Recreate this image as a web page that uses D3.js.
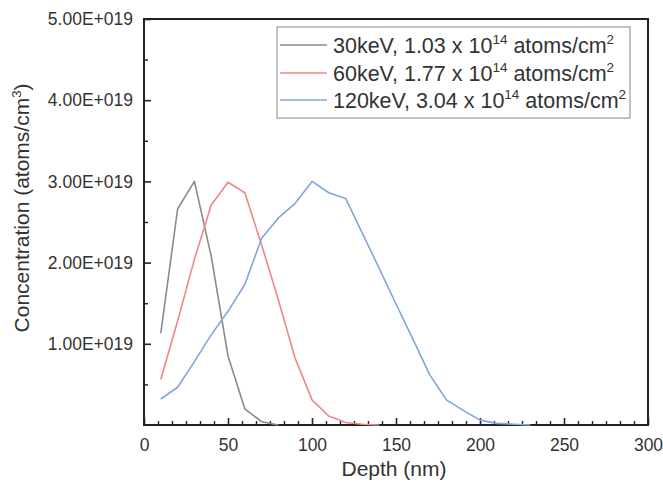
<!DOCTYPE html>
<html>
<head>
<meta charset="utf-8">
<script src="https://cdn.jsdelivr.net/npm/d3@7"></script>
<style>
  html, body { margin: 0; padding: 0; background: #fff; }
  svg { display: block; }
  text { font-family: "Liberation Sans", Arial, sans-serif; fill: #333; }
</style>
</head>
<body>
<svg id="chart" width="663" height="483"></svg>
<script>
// ---- data (concentration in units of 1e19 atoms/cm^3) ----
const depth30 = [10, 20, 30, 40, 50, 60, 70, 80];
const conc30  = [1.13, 2.66, 3.00, 2.08, 0.85, 0.20, 0.04, 0.0];

const depth60 = [10, 20, 30, 40, 50, 60, 70, 80, 90, 100, 110, 120, 130, 140];
const conc60  = [0.56, 1.28, 2.04, 2.71, 2.99, 2.86, 2.22, 1.54, 0.82, 0.31, 0.11, 0.03, 0.01, 0.0];

const depth120 = [10, 20, 30, 40, 50, 60, 70, 80, 90, 100, 110, 120, 130, 140, 150, 160, 170, 180, 190, 200, 210, 220, 230];
const conc120  = [0.32, 0.465, 0.78, 1.11, 1.40, 1.73, 2.30, 2.55, 2.73, 3.00, 2.86, 2.79, 2.36, 1.93, 1.49, 1.06, 0.62, 0.31, 0.18, 0.06, 0.02, 0.01, 0.0];

const seriesNames = ["30keV", "60keV", "120keV"];
const doses = ["1.03", "1.77", "3.04"];
const seriesColors = ["#8a8a8a", "#ee8888", "#7fa6da"];

const xTicks = [0, 50, 100, 150, 200, 250, 300];
const yTicks = [1, 2, 3, 4, 5];
const yTickLabels = ["1.00E+019", "2.00E+019", "3.00E+019", "4.00E+019", "5.00E+019"];

// ---- layout ----
const svg = d3.select("#chart");
const L = 144, R = 648, T = 19, B = 425;
const x = d3.scaleLinear().domain([0, 300]).range([L, R]);
const y = d3.scaleLinear().domain([0, 5]).range([B, T]);

const axisColor = "#222";

// minor ticks
const xMinor = d3.range(0, 300.01, 50 / 6).filter(v => Math.abs(v / 50 - Math.round(v / 50)) > 1e-6);
const yMinor = [0.5, 1.5, 2.5, 3.5, 4.5];

// x axis (ticks inward)
const xAxis = d3.axisBottom(x).tickValues(xTicks).tickSize(-7).tickPadding(14).tickSizeOuter(0);
const gx = svg.append("g").attr("transform", `translate(0,${B})`).call(xAxis);
gx.select(".domain").remove();
gx.selectAll(".tick line").attr("stroke", axisColor).attr("stroke-width", 1.6);
gx.selectAll(".tick text").attr("font-size", 17.5).attr("fill", "#333")
  .attr("font-family", "Liberation Sans, Arial, sans-serif");
const gxm = svg.append("g").attr("transform", `translate(0,${B})`)
  .call(d3.axisBottom(x).tickValues(xMinor).tickSize(-4).tickFormat("").tickSizeOuter(0));
gxm.select(".domain").remove();
gxm.selectAll(".tick line").attr("stroke", axisColor).attr("stroke-width", 1.4);

// y axis (ticks inward)
const yAxis = d3.axisLeft(y).tickValues(yTicks).tickSize(-7).tickPadding(11).tickSizeOuter(0)
  .tickFormat((d, i) => yTickLabels[i]);
const gy = svg.append("g").attr("transform", `translate(${L},0)`).call(yAxis);
gy.select(".domain").remove();
gy.selectAll(".tick line").attr("stroke", axisColor).attr("stroke-width", 1.6);
gy.selectAll(".tick text").attr("font-size", 17.5).attr("fill", "#333")
  .attr("font-family", "Liberation Sans, Arial, sans-serif");
const gym = svg.append("g").attr("transform", `translate(${L},0)`)
  .call(d3.axisLeft(y).tickValues(yMinor).tickSize(-4).tickFormat("").tickSizeOuter(0));
gym.select(".domain").remove();
gym.selectAll(".tick line").attr("stroke", axisColor).attr("stroke-width", 1.4);

// frame
svg.append("rect").attr("x", L).attr("y", T).attr("width", R - L).attr("height", B - T)
  .attr("fill", "none").attr("stroke", axisColor).attr("stroke-width", 2);

// lines
const line = d3.line().x(d => x(d[0])).y(d => y(d[1]));
const series = [
  depth30.map((d, i) => [d, conc30[i]]),
  depth60.map((d, i) => [d, conc60[i]]),
  depth120.map((d, i) => [d, conc120[i]])
];
series.forEach((s, i) => {
  svg.append("path").datum(s).attr("d", line).attr("fill", "none")
    .attr("stroke", seriesColors[i]).attr("stroke-width", 1.6).attr("stroke-linejoin", "round");
});

// legend
const lg = svg.append("g");
lg.append("rect").attr("x", 277).attr("y", 27).attr("width", 353).attr("height", 91)
  .attr("fill", "#fff").attr("stroke", "#999").attr("stroke-width", 1.2);
const rowY = [45, 73, 100];
seriesNames.forEach((n, i) => {
  lg.append("line").attr("x1", 280).attr("x2", 327).attr("y1", rowY[i]).attr("y2", rowY[i])
    .attr("stroke", seriesColors[i]).attr("stroke-width", 1.6);
  const t = lg.append("text").attr("x", 333).attr("y", rowY[i] + 8).attr("font-size", 21.5);
  t.append("tspan").text(`${n}, ${doses[i]} x 10`);
  t.append("tspan").attr("font-size", 13.5).attr("dy", -9).text("14");
  t.append("tspan").attr("dy", 9).text(" atoms/cm");
  t.append("tspan").attr("font-size", 13.5).attr("dy", -9).text("2");
});

// axis titles
svg.append("text").attr("x", (L + R) / 2 - 2).attr("y", 476).attr("text-anchor", "middle")
  .attr("font-size", 21).text("Depth (nm)");
const yt = svg.append("text").attr("transform", "translate(29,208) rotate(-90)")
  .attr("text-anchor", "middle").attr("font-size", 21);
yt.append("tspan").text("Concentration (atoms/cm");
yt.append("tspan").attr("font-size", 13).attr("dy", -8).text("3");
yt.append("tspan").attr("dy", 8).text(")");
</script>
</body>
</html>
